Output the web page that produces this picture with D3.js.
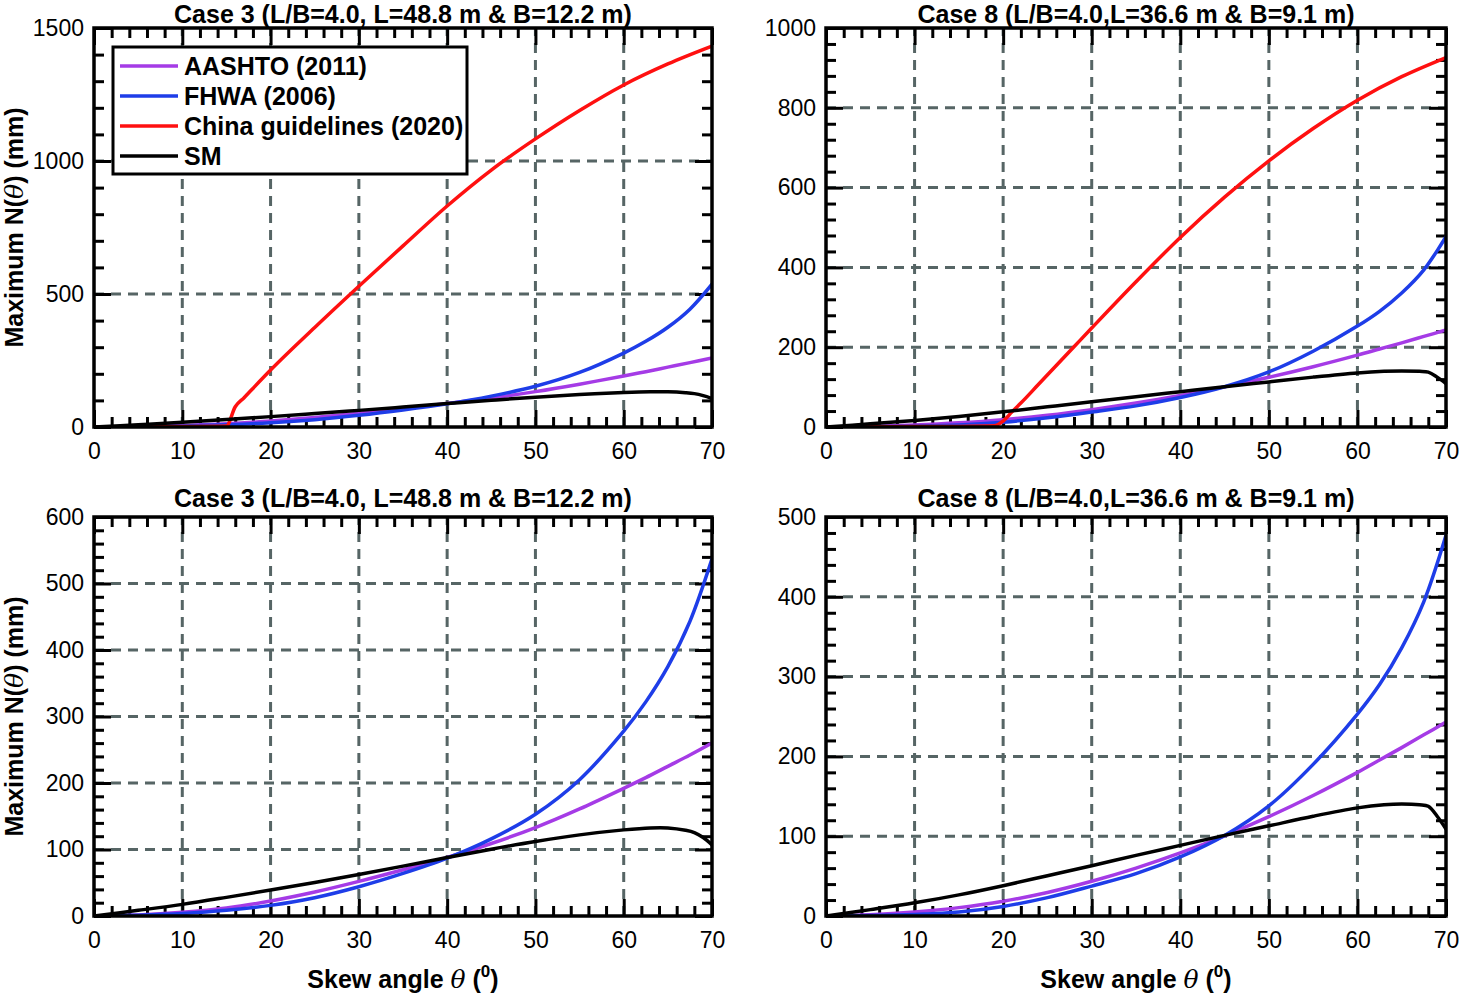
<!DOCTYPE html>
<html><head><meta charset="utf-8">
<script src="https://cdn.jsdelivr.net/npm/d3@7"></script>
<style>
body{margin:0;background:#fff}
svg{display:block}
text{font-family:"Liberation Sans",Arial,Helvetica,sans-serif;fill:#000}
</style>
</head><body>
<svg id="chart" width="1459" height="993"></svg>
<script>
// ---------------- data ----------------
const seriesNames = ["AASHTO (2011)", "FHWA (2006)", "China guidelines (2020)", "SM"];
const seriesColors = ["#a53be6", "#1e3de8", "#ff1010", "#000000"];

// Case 3
const angleC3 = [0,5,10,15,20,25,30,35,40,45,50,55,60,62.5,65,67.5,70];
const aashtoC3 = [0,1.5,5.5,12,22.5,36,52,69.5,88,109,133,161,192,208,225,242,260];
const fhwaC3 = [0,1.3,3.8,8.5,16,27.5,44,64,87,116,153,205,278,322,375,443,537];
const angleSmC3 = [0,5,10,15,20,25,30,35,40,45,50,55,60,63,65,67,68,69,70];
const smC3 = [0,8.5,17.5,28,39,50.5,62.5,75,88,100.5,112,122,129.5,132.5,132.5,129,125.5,118,107];
const angleChinaC3 = [0,5,10,15,16,17,18,20,25,30,35,40,45,50,55,60,65,70];
const chinaC3 = [0,1,2,4,76,110,145,214,374,529,681,831,966,1083,1190,1286,1365,1432];

// Case 8
const angleC8 = [0,5,10,15,20,25,30,35,40,45,50,55,60,62.5,65,67.5,70];
const aashtoC8 = [0,1.5,5,10.5,18.5,29.5,43.5,60,79,100.5,124.5,151,180,195.5,211,227,243];
const fhwaC8 = [0,0.6,2,5,12,23,37.5,53,74,101,138,190,253,290,336,394,477];
const angleSmC8 = [0,5,10,15,20,25,30,35,40,45,50,55,60,63,65,67,68,69,70];
const smC8 = [0,8,16.5,26.5,38,50.5,63,76,88.5,101,113,125,135.5,139.5,140.5,139.5,137.5,125,109];
const angleChinaC8 = [0,5,10,15,19,20,21,22,24,26,28,30,35,40,45,50,55,60,65,70];
const chinaC8 = [0,0.5,1,1.5,3,15,38,60,107,154,201,248,364,475,576,667,748,819,878,926];

const titleC3 = "Case 3 (L/B=4.0, L=48.8 m & B=12.2 m)";
const titleC8 = "Case 8 (L/B=4.0,L=36.6 m & B=9.1 m)";
const xTickValues = [0,10,20,30,40,50,60,70];

// ---------------- drawing ----------------
const svg = d3.select("#chart");

function zip(xs, ys){ return xs.map((x,i)=>[x, ys[i]]); }

const panels = [
  {l:94, r:712, t:28, b:427, yMax:1500, yMajor:500, yMinor:100, title:titleC3, ylab:true, xlab:false,
   series:[zip(angleC3,aashtoC3), zip(angleC3,fhwaC3), zip(angleChinaC3,chinaC3), zip(angleSmC3,smC3)], legend:true},
  {l:826, r:1446, t:28, b:427, yMax:1000, yMajor:200, yMinor:40, title:titleC8, ylab:false, xlab:false,
   series:[zip(angleC8,aashtoC8), zip(angleC8,fhwaC8), zip(angleChinaC8,chinaC8), zip(angleSmC8,smC8)]},
  {l:94, r:712, t:517, b:916, yMax:600, yMajor:100, yMinor:20, title:titleC3, ylab:true, xlab:true,
   series:[zip(angleC3,aashtoC3), zip(angleC3,fhwaC3), null, zip(angleSmC3,smC3)]},
  {l:826, r:1446, t:517, b:916, yMax:500, yMajor:100, yMinor:20, title:titleC8, ylab:false, xlab:true,
   series:[zip(angleC8,aashtoC8), zip(angleC8,fhwaC8), null, zip(angleSmC8,smC8)]}
];

const gridColor = "#566565";
const majorLen = 17, minorLen = 10;
const boldSize = 25;

panels.forEach((p, pi) => {
  const x = d3.scaleLinear().domain([0,70]).range([p.l, p.r]);
  const y = d3.scaleLinear().domain([0,p.yMax]).range([p.b, p.t]);
  const w = p.r - p.l, h = p.b - p.t;
  const g = svg.append("g");

  const clipId = "clip"+pi;
  svg.append("clipPath").attr("id", clipId).append("rect")
     .attr("x", p.l).attr("y", p.t).attr("width", w).attr("height", h);

  // grid
  const xMaj = d3.range(0, 70.001, 10);
  const yMaj = d3.range(0, p.yMax+0.001, p.yMajor);
  g.append("g").selectAll("line").data(xMaj.filter(v=>v>0 && v<70)).join("line")
    .attr("x1", d=>x(d)).attr("x2", d=>x(d)).attr("y1", p.b).attr("y2", p.t)
    .attr("stroke", gridColor).attr("stroke-width", 3).attr("stroke-dasharray", "10,7");
  g.append("g").selectAll("line").data(yMaj.filter(v=>v>0 && v<p.yMax)).join("line")
    .attr("y1", d=>y(d)).attr("y2", d=>y(d)).attr("x1", p.l).attr("x2", p.r)
    .attr("stroke", gridColor).attr("stroke-width", 3).attr("stroke-dasharray", "10,7");

  // ticks via d3 axes (inward)
  const xMinor = d3.range(0, 70.001, 2).filter(v=>v%10!==0);
  const yMinor = d3.range(0, p.yMax+0.001, p.yMinor).filter(v=>Math.abs(v/p.yMajor - Math.round(v/p.yMajor))>1e-6);
  function styleAxis(sel){
    sel.select(".domain").remove();
    sel.selectAll(".tick line").attr("stroke","#000").attr("stroke-width",3);
  }
  // bottom
  const bMaj = g.append("g").attr("transform",`translate(0,${p.b})`)
    .call(d3.axisBottom(x).tickValues(xTickValues).tickSizeInner(-majorLen).tickSizeOuter(0).tickPadding(16).tickFormat(d3.format("d")));
  styleAxis(bMaj);
  bMaj.selectAll(".tick text").attr("font-size",23).attr("font-family",'"Liberation Sans",Arial,sans-serif').attr("fill","#000");
  g.append("g").attr("transform",`translate(0,${p.b})`)
    .call(d3.axisBottom(x).tickValues(xMinor).tickSizeInner(-minorLen).tickSizeOuter(0).tickFormat("")).call(styleAxis);
  // top
  g.append("g").attr("transform",`translate(0,${p.t})`)
    .call(d3.axisTop(x).tickValues(xTickValues).tickSizeInner(-majorLen).tickSizeOuter(0).tickFormat("")).call(styleAxis);
  g.append("g").attr("transform",`translate(0,${p.t})`)
    .call(d3.axisTop(x).tickValues(xMinor).tickSizeInner(-minorLen).tickSizeOuter(0).tickFormat("")).call(styleAxis);
  // left
  const lMaj = g.append("g").attr("transform",`translate(${p.l},0)`)
    .call(d3.axisLeft(y).tickValues(yMaj).tickSizeInner(-majorLen).tickSizeOuter(0).tickPadding(10).tickFormat(d3.format("d")));
  styleAxis(lMaj);
  lMaj.selectAll(".tick text").attr("font-size",23).attr("font-family",'"Liberation Sans",Arial,sans-serif').attr("fill","#000");
  g.append("g").attr("transform",`translate(${p.l},0)`)
    .call(d3.axisLeft(y).tickValues(yMinor).tickSizeInner(-minorLen).tickSizeOuter(0).tickFormat("")).call(styleAxis);
  // right
  g.append("g").attr("transform",`translate(${p.r},0)`)
    .call(d3.axisRight(y).tickValues(yMaj).tickSizeInner(-majorLen).tickSizeOuter(0).tickFormat("")).call(styleAxis);
  g.append("g").attr("transform",`translate(${p.r},0)`)
    .call(d3.axisRight(y).tickValues(yMinor).tickSizeInner(-minorLen).tickSizeOuter(0).tickFormat("")).call(styleAxis);

  // series
  const smooth = d3.line().x(d=>x(d[0])).y(d=>y(d[1])).curve(d3.curveCatmullRom.alpha(0.5));
  const mono = d3.line().x(d=>x(d[0])).y(d=>y(d[1])).curve(d3.curveMonotoneX);
  const sg = g.append("g").attr("clip-path", `url(#${clipId})`);
  [0,1,2,3].forEach(i => {
    const s = p.series[i];
    if(!s) return;
    sg.append("path").datum(s).attr("d", i===2 ? mono : smooth).attr("fill","none")
      .attr("stroke", seriesColors[i]).attr("stroke-width", 3.5)
      .attr("stroke-linejoin","round").attr("stroke-linecap","round");
  });

  // frame
  g.append("rect").attr("x",p.l).attr("y",p.t).attr("width",w).attr("height",h)
    .attr("fill","none").attr("stroke","#000").attr("stroke-width",3.5);

  // title
  g.append("text").attr("x",(p.l+p.r)/2).attr("y",Math.max(p.t-10, 23))
    .attr("text-anchor","middle").attr("font-size",boldSize).attr("font-weight","bold").text(p.title);

  // y label
  if(p.ylab){
    const t = g.append("text").attr("transform",`translate(23,${(p.t+p.b)/2}) rotate(-90)`)
      .attr("text-anchor","middle").attr("font-size",boldSize).attr("font-weight","bold");
    t.append("tspan").text("Maximum N(");
    t.append("tspan").attr("font-style","italic").attr("font-family",'"DejaVu Serif",serif').attr("font-weight","normal").text("θ");
    t.append("tspan").text(") (mm)");
  }
  // x label
  if(p.xlab){
    const t = g.append("text").attr("x",(p.l+p.r)/2).attr("y",p.b+72)
      .attr("text-anchor","middle").attr("font-size",boldSize).attr("font-weight","bold");
    t.append("tspan").text("Skew angle ");
    t.append("tspan").attr("font-style","italic").attr("font-family",'"DejaVu Serif",serif').attr("font-weight","normal").text("θ");
    t.append("tspan").text(" (");
    t.append("tspan").attr("dy",-11).attr("font-size",17).text("0");
    t.append("tspan").attr("dy",11).text(")");
  }

  // legend
  if(p.legend){
    const lg = g.append("g");
    lg.append("rect").attr("x",113).attr("y",47).attr("width",354).attr("height",127)
      .attr("fill","#fff").attr("stroke","#000").attr("stroke-width",3);
    seriesNames.forEach((n,i)=>{
      const yy = 66 + i*30;
      lg.append("line").attr("x1",120).attr("x2",178).attr("y1",yy).attr("y2",yy)
        .attr("stroke",seriesColors[i]).attr("stroke-width",3.5);
      lg.append("text").attr("x",184).attr("y",yy+8.5).attr("font-size",boldSize).attr("font-weight","bold").text(n);
    });
  }
});
</script>
</body></html>
